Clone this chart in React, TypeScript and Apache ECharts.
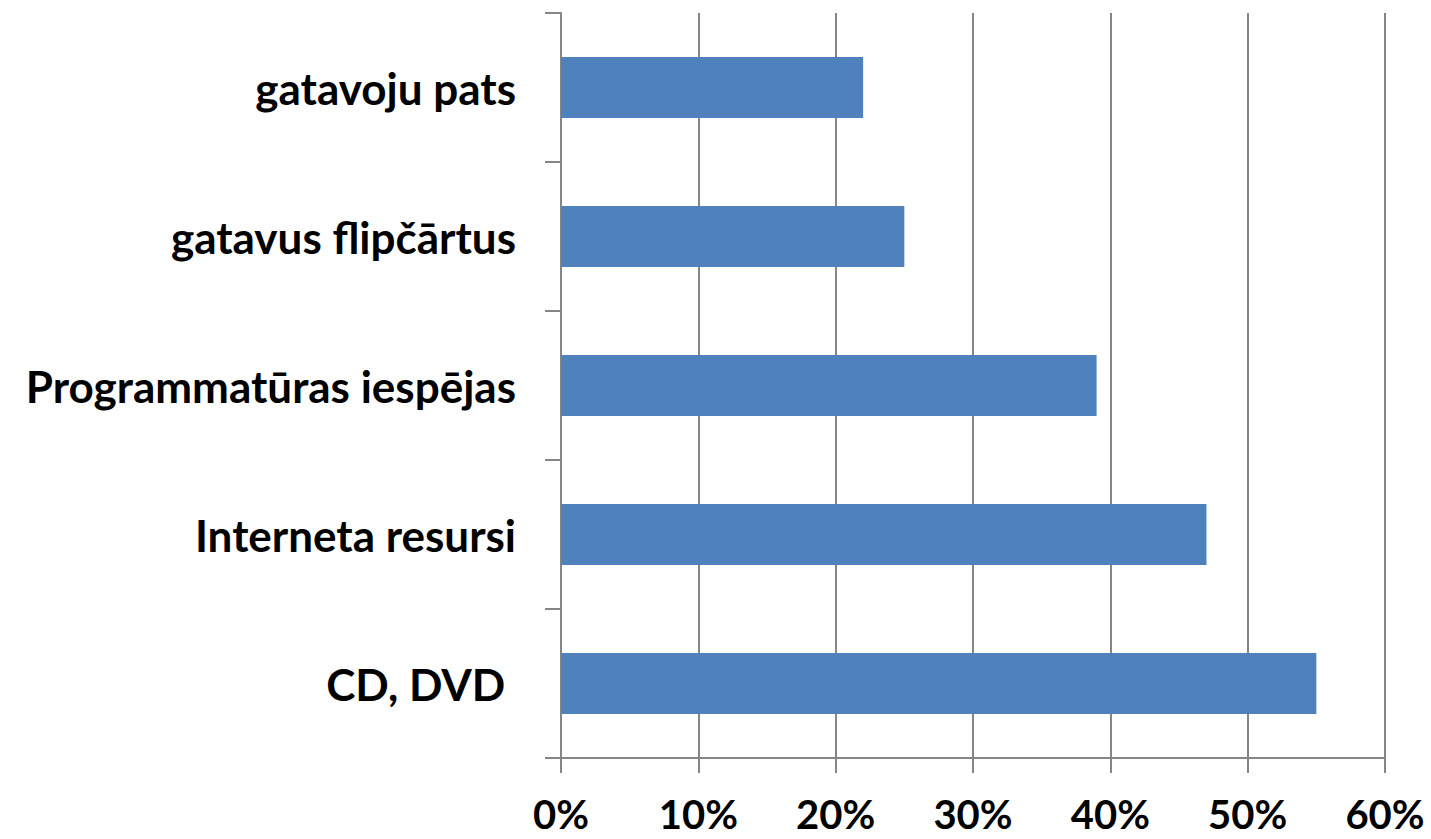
import React, { useEffect, useRef } from "react";
import * as echarts from "echarts";

const categories = ["CD, DVD ", "Interneta resursi", "Programmatūras iespējas", "gatavus flipčārtus", "gatavoju pats"];
const values = [55, 47, 39, 25, 22];
const xTicks = [0, 10, 20, 30, 40, 50, 60];

export default function App() {
  const ref = useRef<HTMLDivElement>(null);
  useEffect(() => {
    if (!ref.current) return;
    const chart = echarts.init(ref.current, null, { renderer: "svg" });
    const axisGray = "#868686";
    chart.setOption({
      animation: false,
      backgroundColor: "#ffffff",
      grid: { left: 561, right: 46, top: 13, bottom: 81, containLabel: false },
      xAxis: {
        type: "value",
        min: xTicks[0],
        max: xTicks[xTicks.length - 1],
        interval: 10,
        axisLine: { show: true, lineStyle: { color: axisGray, width: 2 } },
        axisTick: { show: true, length: 15, lineStyle: { color: axisGray, width: 2 } },
        splitLine: { show: true, lineStyle: { color: axisGray, width: 2 } },
        axisLabel: {
          formatter: "{value}%",
          color: "#000",
          fontFamily: "Lato",
          fontWeight: "bold",
          fontSize: 40,
          lineHeight: 40,
          margin: 36,
        },
      },
      yAxis: {
        type: "category",
        data: categories,
        axisLine: { show: true, lineStyle: { color: axisGray, width: 2 } },
        axisTick: { show: true, length: 16, lineStyle: { color: axisGray, width: 2 } },
        splitLine: { show: false },
        axisLabel: {
          color: "#000",
          fontFamily: "Lato",
          fontWeight: "bold",
          fontSize: 44,
          margin: 45,
        },
      },
      series: [
        {
          type: "bar",
          data: values,
          barCategoryGap: "59%",
          itemStyle: { color: "#4F81BD" },
        },
      ],
    });
    return () => chart.dispose();
  }, []);
  return (
    <div
      ref={ref}
      style={{ position: "fixed", left: 0, top: 0, width: 1431, height: 839, background: "#fff" }}
    />
  );
}
